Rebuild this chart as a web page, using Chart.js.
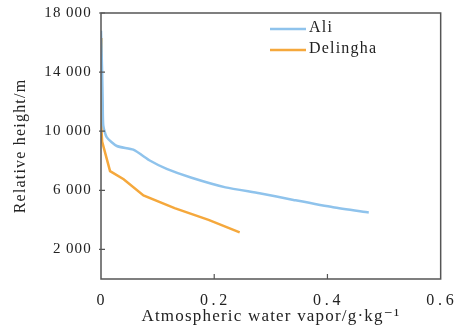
<!DOCTYPE html>
<html>
<head>
<meta charset="utf-8">
<script src="https://cdn.jsdelivr.net/npm/chart.js@4.4.1/dist/chart.umd.min.js"></script>
<style>
  html, body { margin: 0; padding: 0; background: #fff; }
  #wrap { width: 459px; height: 330px; }
</style>
</head>
<body>
<div id="wrap"><canvas id="vaporChart" width="459" height="330"></canvas></div>
<script>
// Data
const aliVapor   = [0.000, 0.002, 0.003, 0.004, 0.010, 0.028, 0.057, 0.087, 0.116, 0.160, 0.220, 0.280, 0.340, 0.410, 0.473];
const aliHeight  = [16800, 14000, 12000, 10400, 9600, 9000, 8750, 8000, 7450, 6850, 6200, 5800, 5350, 4850, 4500];
const delVapor   = [0.000, 0.001, 0.001, 0.001, 0.002, 0.016, 0.040, 0.075, 0.130, 0.190, 0.245];
const delHeight  = [16300, 14000, 12000, 10000, 9300, 7300, 6750, 5650, 4800, 4000, 3150];
const xTicks = [0, 0.2, 0.4, 0.6];
const yTicks = [2000, 6000, 10000, 14000, 18000];
const seriesNames = ['Ali', 'Delingha'];
const seriesColors = ['#8fc3ec', '#f5a83c'];

const FONT = "'Liberation Serif', 'DejaVu Serif', serif";
const TEXT = '#222222';
const AXIS = '#555555';

function toPoints(xs, ys) {
    return xs.map((x, i) => ({ x: x, y: ys[i] }));
}

// the original lettering is a bit wide, so space it out a little
const spacingPlugin = {
    id: 'spacing',
    beforeUpdate(chart) { chart.ctx.letterSpacing = '1.2px'; },
    beforeDraw(chart) { chart.ctx.letterSpacing = '1.2px'; }
};

// frame, inward ticks and legend
const framePlugin = {
    id: 'frame',
    afterDraw(chart) {
        const ctx = chart.ctx;
        const a = chart.chartArea;
        const xs = chart.scales.x, ys = chart.scales.y;
        ctx.save();
        ctx.strokeStyle = AXIS;
        ctx.lineWidth = 1.5;
        ctx.strokeRect(a.left, a.top, a.right - a.left, a.bottom - a.top);
        ctx.lineWidth = 1.2;
        ctx.beginPath();
        yTicks.forEach(v => {
            const py = ys.getPixelForValue(v);
            ctx.moveTo(a.left - 2, py);
            ctx.lineTo(a.left + 4, py);
        });
        xTicks.slice(1, 3).forEach(v => {
            const px = xs.getPixelForValue(v);
            ctx.moveTo(px, a.bottom);
            ctx.lineTo(px, a.bottom - 5);
        });
        ctx.stroke();

        // legend
        ctx.font = '16px ' + FONT;
        ctx.textBaseline = 'middle';
        seriesNames.forEach((name, i) => {
            const y = a.top + 16 + i * 21;
            ctx.strokeStyle = seriesColors[i];
            ctx.lineWidth = 2.5;
            ctx.beginPath();
            ctx.moveTo(a.left + 169, y);
            ctx.lineTo(a.left + 205, y);
            ctx.stroke();
            ctx.fillStyle = TEXT;
            ctx.fillText(name, a.left + 208, y - 1);
        });
        ctx.restore();
    }
};

new Chart(document.getElementById('vaporChart').getContext('2d'), {
    type: 'scatter',
    data: {
        datasets: [
            {
                label: seriesNames[0],
                data: toPoints(aliVapor, aliHeight),
                borderColor: seriesColors[0],
                borderWidth: 2.5,
                showLine: true,
                pointRadius: 0,
                tension: 0.2
            },
            {
                label: seriesNames[1],
                data: toPoints(delVapor, delHeight),
                borderColor: seriesColors[1],
                borderWidth: 2.5,
                showLine: true,
                pointRadius: 0,
                tension: 0
            }
        ]
    },
    options: {
        responsive: false,
        animation: false,
        layout: { padding: { top: 13, right: 18, left: 11, bottom: 3 } },
        plugins: {
            legend: { display: false },
            tooltip: { enabled: false }
        },
        scales: {
            x: {
                type: 'linear',
                min: 0,
                max: 0.6,
                afterBuildTicks: s => { s.ticks = xTicks.map(v => ({ value: v })); },
                afterFit: s => { s.height = 48; },
                grid: { display: false },
                border: { display: false },
                ticks: {
                    color: TEXT,
                    font: { family: FONT, size: 16 },
                    padding: 4,
                    maxRotation: 0,
                    callback: v => v === 0 ? '0' : v.toFixed(1).split('').join('\u200A')
                },
                title: {
                    display: true,
                    text: 'Atmospheric water vapor/g·kg⁻¹',
                    color: TEXT,
                    font: { family: FONT, size: 17 },
                    padding: { top: 1, bottom: 0 }
                }
            },
            y: {
                type: 'linear',
                min: 0,
                max: 18000,
                afterBuildTicks: s => { s.ticks = yTicks.map(v => ({ value: v })); },
                afterFit: s => { s.width = 90; },
                grid: { display: false },
                border: { display: false },
                ticks: {
                    color: TEXT,
                    font: { family: FONT, size: 15 },
                    padding: 1,
                    callback: v => {
                        const s = String(v);
                        return s.slice(0, s.length - 3) + '\u2009' + s.slice(-3);
                    }
                },
                title: {
                    display: true,
                    text: 'Relative height/m',
                    color: TEXT,
                    font: { family: FONT, size: 16 },
                    padding: { top: 0, bottom: 4 }
                }
            }
        }
    },
    plugins: [spacingPlugin, framePlugin]
});
</script>
</body>
</html>
